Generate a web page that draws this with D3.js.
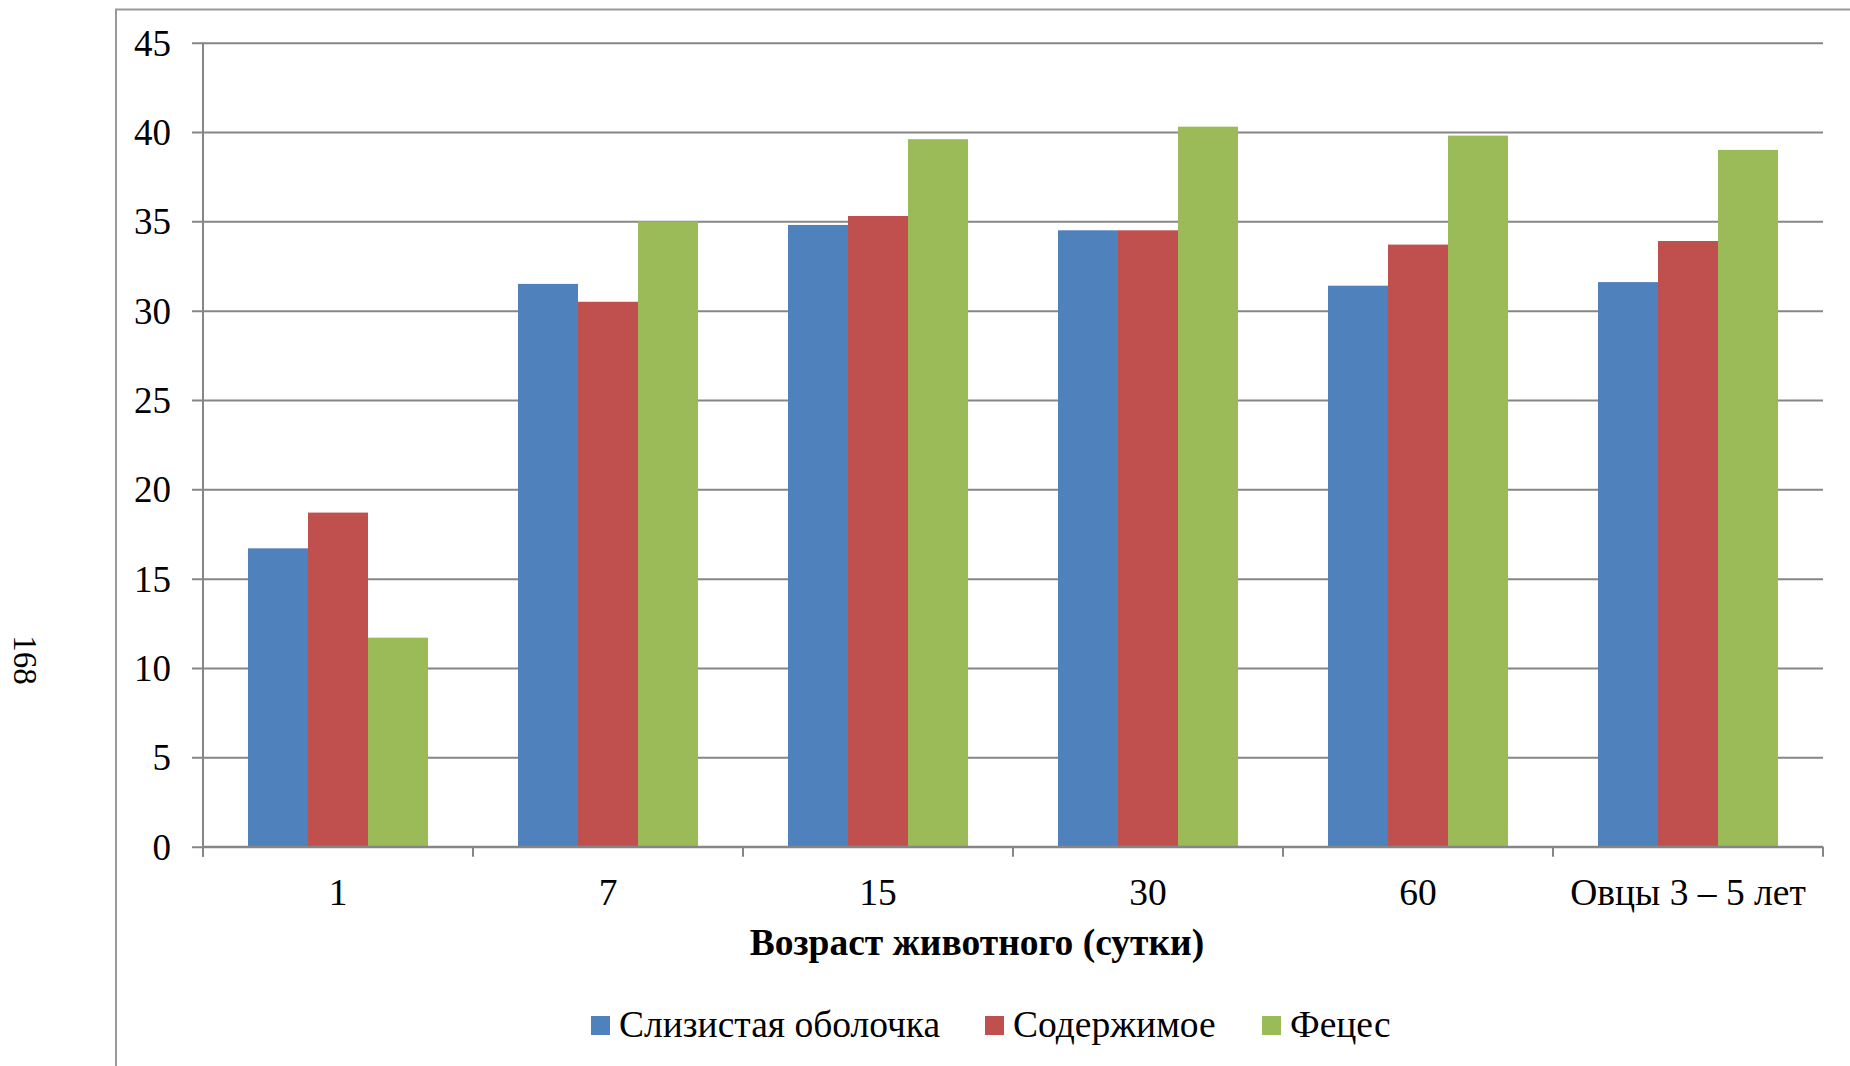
<!DOCTYPE html>
<html><head><meta charset="utf-8">
<script src="https://cdn.jsdelivr.net/npm/d3@7"></script>
<style>html,body{margin:0;padding:0;background:#fff;}svg{display:block;}</style>
</head><body>
<svg id="c" width="1850" height="1066"></svg>
<script>
const categories = ["1", "7", "15", "30", "60", "Овцы 3 – 5 лет"];
const seriesNames = ["Слизистая оболочка", "Содержимое", "Фецес"];
const mucosa = [16.7, 31.5, 34.8, 34.5, 31.4, 31.6];
const contents = [18.7, 30.5, 35.3, 34.5, 33.7, 33.9];
const feces = [11.7, 35.0, 39.6, 40.3, 39.8, 39.0];
const yTicks = [0, 5, 10, 15, 20, 25, 30, 35, 40, 45];
const xTitle = "Возраст животного (сутки)";
const pageNumber = "168";
const colors = ["#4F81BD", "#C0504D", "#9BBB59"];

(function () {
const series = [mucosa, contents, feces];
const svg = d3.select("#c");
const font = "'Liberation Serif','Times New Roman',serif";
const pL = 203, pR = 1823, pT = 42.7, pB = 846.7;
const grid = "#868686";
const fs = 37.5;

// frame
svg.append("path").attr("d", "M116,1070 V9.5 H1860").attr("fill", "none").attr("stroke", "#999").attr("stroke-width", 2);

// page number
svg.append("text").attr("transform", "translate(14,660) rotate(90)")
  .attr("text-anchor", "middle").attr("font-family", font).attr("font-size", 33).attr("fill", "#000")
  .text(pageNumber);

const x0 = d3.scaleBand().domain(categories).range([pL, pR]).paddingInner(0).paddingOuter(0);
const x1 = d3.scaleBand().domain(d3.range(series.length)).range([0, x0.bandwidth()]).paddingInner(0).paddingOuter(0.75);
const y = d3.scaleLinear().domain([0, 45]).range([pB, pT]);

// grid lines
const gy = svg.append("g").attr("transform", `translate(${pR},0)`);
gy.call(d3.axisRight(y).tickValues(yTicks).tickSize(-(pR - 192)).tickFormat(""));
gy.select(".domain").remove();
gy.selectAll(".tick line").attr("stroke", grid).attr("stroke-width", 2);

// y axis labels
const gyl = svg.append("g").attr("transform", `translate(${pL},0)`);
gyl.call(d3.axisLeft(y).tickValues(yTicks).tickSize(0).tickPadding(32).tickFormat(d3.format("d")));
gyl.select(".domain").attr("stroke", grid).attr("stroke-width", 2).attr("d", `M0,${pT}V${pB + 10}`);
gyl.selectAll(".tick text").attr("font-family", font).attr("font-size", 37).attr("fill", "#000").attr("dy", "0.34em");

// bars
const groups = svg.append("g").selectAll("g").data(categories).join("g")
  .attr("transform", d => `translate(${x0(d)},0)`);
groups.selectAll("rect").data((d, i) => series.map((s, k) => ({k, v: s[i]}))).join("rect")
  .attr("x", d => x1(d.k)).attr("width", x1.bandwidth())
  .attr("y", d => y(d.v)).attr("height", d => y(0) - y(d.v))
  .attr("fill", d => colors[d.k]);

// x axis
const gx = svg.append("g").attr("transform", `translate(0,${pB})`);
gx.call(d3.axisBottom(x0).tickSize(0).tickPadding(32));
gx.select(".domain").attr("stroke", grid).attr("stroke-width", 2).attr("d", `M${pL},0H${pR}`);
gx.selectAll(".tick text").attr("font-family", font).attr("font-size", fs).attr("fill", "#000");
// category boundary ticks
const bounds = categories.map(c => x0(c)).concat([x0(categories[categories.length - 1]) + x0.bandwidth()]);
svg.append("g").selectAll("line").data(bounds).join("line")
  .attr("x1", d => d).attr("x2", d => d)
  .attr("y1", pB).attr("y2", pB + 10).attr("stroke", grid).attr("stroke-width", 2);

// x title
svg.append("text").attr("x", 977).attr("y", 955).attr("text-anchor", "middle")
  .attr("font-family", font).attr("font-size", fs).attr("font-weight", "bold").attr("fill", "#000").text(xTitle);

// legend
const legX = [591, 985, 1262];
const leg = svg.append("g").selectAll("g").data(seriesNames).join("g")
  .attr("transform", (d, i) => `translate(${legX[i]},1016)`);
leg.append("rect").attr("width", 19).attr("height", 19).attr("fill", (d, i) => colors[i]);
leg.append("text").attr("x", 28).attr("y", 21).attr("font-family", font).attr("font-size", fs).attr("fill", "#000").text(d => d);
})();
</script>
</body></html>
